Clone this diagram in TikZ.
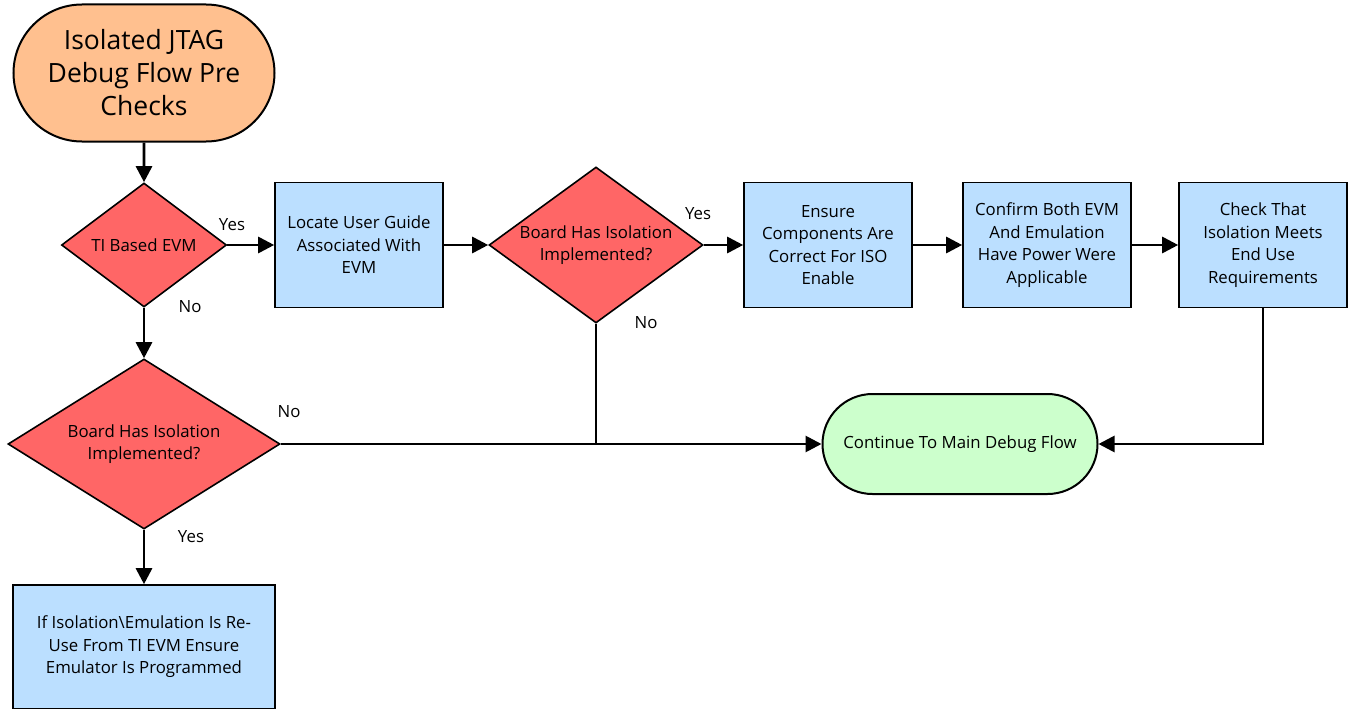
\documentclass[tikz,border=0pt]{standalone}
\usepackage{fontspec}
\setmainfont{Open Sans}
\usetikzlibrary{shapes.geometric,shapes.misc,arrows.meta}
\definecolor{startorange}{RGB}{255,192,143}
\definecolor{decisionred}{RGB}{255,102,102}
\definecolor{stepblue}{RGB}{187,223,255}
\definecolor{endgreen}{RGB}{204,255,204}
\begin{document}
\begin{tikzpicture}[x=1pt,y=-1pt,
    every node/.style={font=\fontsize{16.8}{22.5}\selectfont, align=center},
    terminal/.style={draw, line width=2pt, rounded rectangle, inner sep=0pt},
    decision/.style={draw, line width=1.6pt, diamond, fill=decisionred, inner sep=-6pt},
    stepbox/.style={draw, line width=1.6pt, rectangle, fill=stepblue, inner sep=0pt,
        minimum width=168pt, minimum height=125pt},
    arr/.style={line width=2.8pt, -{Triangle[length=16pt,width=16pt]}},
    plain/.style={line width=2.8pt}]
    \useasboundingbox (0,0) rectangle (1349,709);

    \node[terminal, fill=startorange, minimum width=261pt, minimum height=137pt,
        font=\fontsize{26.5}{33}\selectfont] (start) at (144,73)
        {Isolated JTAG\\Debug Flow Pre\\Checks};

    \node[decision, aspect=1.33, minimum width=165pt, minimum height=124pt] (tievm) at (144,245) {TI Based EVM};
    \node[stepbox] (guide) at (359,245) {Locate User Guide\\Associated With\\EVM};
    \node[decision, aspect=1.37, minimum width=214pt, minimum height=156pt] (isoA) at (596,245)
        {Board Has Isolation\\Implemented?};
    \node[stepbox] (parts) at (828,245) {Ensure\\Components Are\\Correct For ISO\\Enable};
    \node[stepbox] (power) at (1047,245) {Confirm Both EVM\\And Emulation\\Have Power Were\\Applicable};
    \node[stepbox] (check) at (1263,245) {Check That\\Isolation Meets\\End Use\\Requirements};

    \node[decision, aspect=1.6, minimum width=272pt, minimum height=170pt] (isoB) at (144,444)
        {Board Has Isolation\\Implemented?};
    \node[terminal, fill=endgreen, minimum width=275pt, minimum height=100pt] (cont) at (960,444)
        {Continue To Main Debug Flow};
    \node[stepbox, minimum width=262pt, minimum height=124pt] (reuse) at (144,647)
        {If Isolation\textbackslash Emulation Is Re-\\Use From TI EVM Ensure\\Emulator Is Programmed};

    \coordinate (join) at (596,444);

    % connectors
    \draw[arr] (start) -- (tievm);
    \draw[arr] (tievm) -- (guide);
    \draw[arr] (guide) -- (isoA);
    \draw[arr] (isoA) -- (parts);
    \draw[arr] (parts) -- (power);
    \draw[arr] (power) -- (check);
    \draw[arr] (check.south) |- (cont.east);
    \draw[plain] (isoA.south) -- (join);
    \draw[arr] (isoB.east) -- (cont.west);
    \draw[arr] (tievm) -- (isoB);
    \draw[arr] (isoB) -- (reuse);

    % branch labels
    \node (yesA) at (232,225) {Yes}; % right of TI Based EVM
    \node (noA) at (190,307) {No}; % below TI Based EVM
    \node (yesB) at (698,214) {Yes}; % right of upper isolation check
    \node (noB) at (646,323) {No}; % below upper isolation check
    \node (noC) at (289,412) {No}; % right of lower isolation check
    \node (yesC) at (191,537) {Yes}; % below lower isolation check
\end{tikzpicture}
\end{document}
